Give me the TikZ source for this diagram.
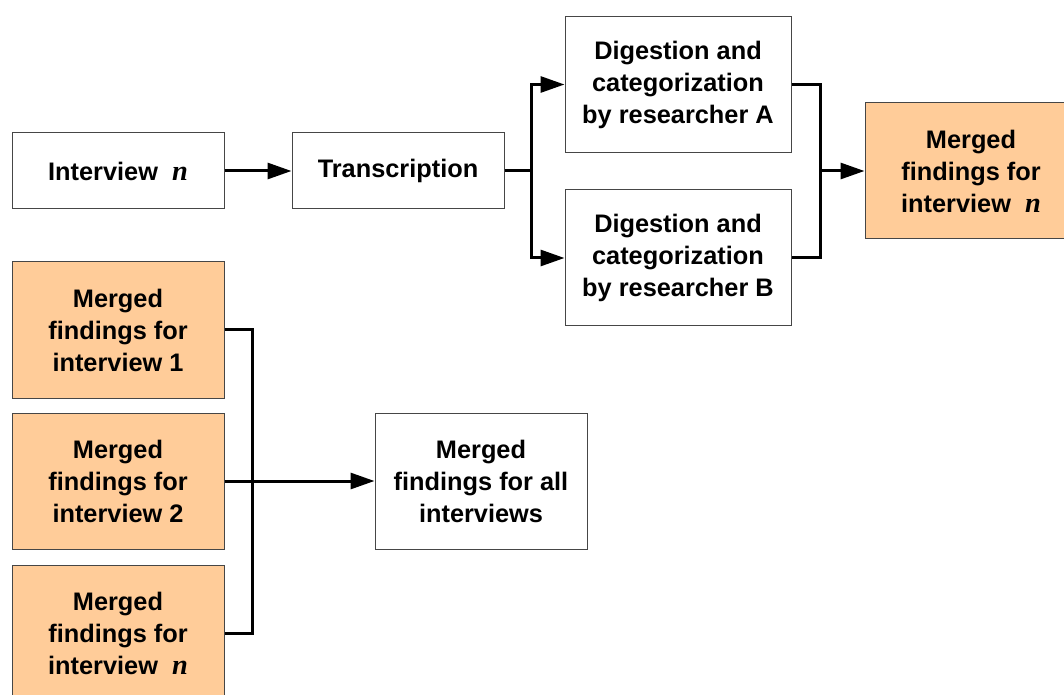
\documentclass[tikz,border=0pt]{standalone}
\usepackage{fontspec}
\setmainfont{Liberation Sans}
\newfontfamily\serifn[Scale=1.12]{Liberation Serif}
\usetikzlibrary{arrows.meta}
\newcommand{\nvar}{{\serifn\bfseries\itshape n}}
\definecolor{mergefill}{RGB}{255,204,153}
\definecolor{boxline}{RGB}{70,70,70}
\tikzset{
  stepbox/.style={draw=boxline, line width=0.75pt, fill=white, align=center,
    font=\fontsize{19}{24}\selectfont\bfseries, inner sep=2pt,
    minimum width=159pt, minimum height=57pt},
  tallbox/.style={stepbox, minimum height=102pt},
  mergebox/.style={tallbox, fill=mergefill},
  link/.style={line width=2.25pt, line join=miter},
  arr/.style={link, -{Triangle[length=18pt,width=12pt]}}
}
\begin{document}
\begin{tikzpicture}[x=0.75pt,y=0.75pt,yscale=-1,xscale=1]
  \clip (0,0) rectangle (1064,695);
  % first row
  \node [stepbox] (interview) at (118,171) {Interview\ \ \nvar};
  \node [stepbox] (trans) at (398,171) {\strut Transcription};
  \node [tallbox, minimum width=169.5pt] (digA) at (678,84.5) {Digestion and\\categorization\\by researcher A};
  \node [tallbox, minimum width=169.5pt] (digB) at (678,258) {Digestion and\\categorization\\by researcher B};
  \node [mergebox] (mergedN) at (971,171) {Merged\\findings for\\interview\ \ \nvar};
  % second part
  \node [mergebox] (m1) at (118,330) {Merged\\findings for\\interview 1};
  \node [mergebox] (m2) at (118,481) {Merged\\findings for\\interview 2};
  \node [mergebox] (m3) at (118,633) {Merged\\findings for\\interview\ \ \nvar};
  \node [tallbox] (all) at (481,481) {Merged\\findings for all\\interviews};

  % connectors
  \draw [arr] (interview) -- (trans);
  \draw [link] (trans.east) -- ++(27,0) coordinate (split);
  \draw [arr] (split) |- (digA.west);
  \draw [arr] (split) |- (digB.west);
  \draw [link] (digA.east) -- ++(29,0) |- (digB.east);
  \coordinate (join) at (820,171);
  \draw [arr] (join) -- (mergedN.west);
  \draw [link] (m1.east) -- ++(28,0) |- (m3.east);
  \draw [arr] (m2.east) -- (all.west);
\end{tikzpicture}
\end{document}
